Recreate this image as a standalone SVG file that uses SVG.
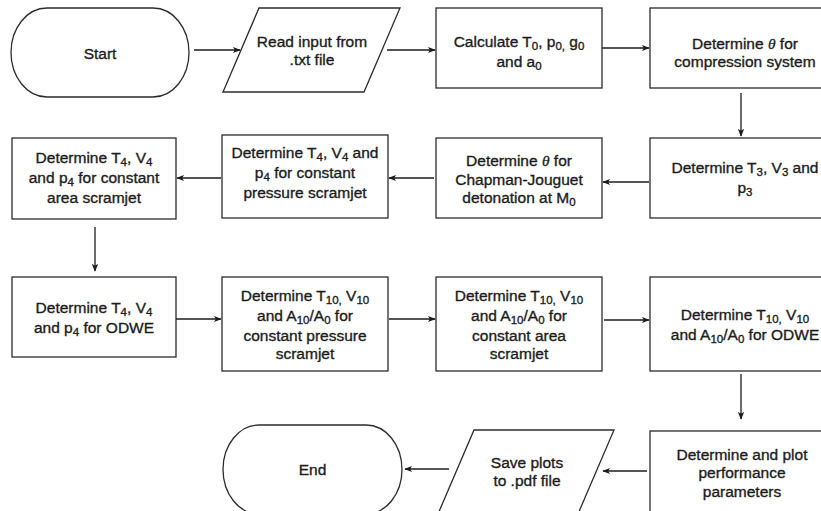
<svg xmlns="http://www.w3.org/2000/svg" width="821" height="511" viewBox="0 0 821 511">
<defs>
<style>
.sh{fill:#fff;stroke:#2b2b2b;stroke-width:1.3}
.t{font-family:"Liberation Sans",Arial,sans-serif;font-size:15.5px;fill:#1c1c1c;stroke:#1c1c1c;stroke-width:0.35;text-anchor:middle}
.s{font-size:11.5px}
.th{font-family:"Liberation Serif","Times New Roman",serif;font-style:italic}
.c{fill:none;stroke:#1c1c1c;stroke-width:1.3}
</style>
<marker id="ah" viewBox="0 0 10 10" refX="9" refY="5" markerWidth="8" markerHeight="8" markerUnits="userSpaceOnUse" orient="auto">
<path d="M0,1 L10,5 L0,9 L2.5,5 Z" fill="#1c1c1c"/>
</marker>
</defs>
<rect width="821" height="511" fill="#fff"/>
<g id="connectors">
<line class="c" x1="194" y1="50" x2="240" y2="50" marker-end="url(#ah)"/>
<line class="c" x1="387" y1="50" x2="435" y2="50" marker-end="url(#ah)"/>
<line class="c" x1="602" y1="48" x2="649" y2="48" marker-end="url(#ah)"/>
<line class="c" x1="741" y1="93" x2="741" y2="136" marker-end="url(#ah)"/>
<line class="c" x1="649" y1="182" x2="603" y2="182" marker-end="url(#ah)"/>
<line class="c" x1="434" y1="178" x2="389" y2="178" marker-end="url(#ah)"/>
<line class="c" x1="221" y1="178" x2="177" y2="178" marker-end="url(#ah)"/>
<line class="c" x1="95" y1="227" x2="95" y2="271" marker-end="url(#ah)"/>
<line class="c" x1="176" y1="319" x2="221" y2="319" marker-end="url(#ah)"/>
<line class="c" x1="389" y1="319" x2="435" y2="319" marker-end="url(#ah)"/>
<line class="c" x1="604" y1="320" x2="649" y2="320" marker-end="url(#ah)"/>
<line class="c" x1="741" y1="374" x2="741" y2="419" marker-end="url(#ah)"/>
<line class="c" x1="647" y1="471" x2="603" y2="471" marker-end="url(#ah)"/>
<line class="c" x1="449" y1="469" x2="405" y2="469" marker-end="url(#ah)"/>
</g>
<g id="start">
<rect class="sh" x="11" y="8" width="178" height="89" rx="36" ry="44.5"/>
<text class="t" x="100" y="58.5">Start</text>
</g>
<g id="read-input">
<polygon class="sh" points="259,8 400,8 364,92 223,92"/>
<text class="t" x="312" y="46.8">Read input from</text>
<text class="t" x="312" y="65.3">.txt file</text>
</g>
<g id="calculate">
<rect class="sh" x="436" y="8" width="166" height="80"/>
<text class="t" x="519" y="47">Calculate T<tspan class="s" dy="3.2">0</tspan><tspan dy="-3.2">, p</tspan><tspan class="s" dy="3.2">0,</tspan><tspan dy="-3.2"> g</tspan><tspan class="s" dy="3.2">0</tspan></text>
<text class="t" x="519" y="67">and a<tspan class="s" dy="3.2">0</tspan></text>
</g>
<g id="theta-compression">
<rect class="sh" x="650" y="8" width="190" height="80"/>
<text class="t" x="745" y="48.8">Determine <tspan class="th">θ</tspan> for</text>
<text class="t" x="745" y="67.3">compression system</text>
</g>
<g id="t3">
<rect class="sh" x="650" y="138" width="190" height="80"/>
<text class="t" x="745" y="172.5">Determine T<tspan class="s" dy="3.2">3</tspan><tspan dy="-3.2">, V</tspan><tspan class="s" dy="3.2">3</tspan><tspan dy="-3.2"> and</tspan></text>
<text class="t" x="745" y="192.5">p<tspan class="s" dy="3.2">3</tspan></text>
</g>
<g id="theta-cj">
<rect class="sh" x="436" y="138" width="166" height="80"/>
<text class="t" x="519" y="166.1">Determine <tspan class="th">θ</tspan> for</text>
<text class="t" x="519" y="184.6">Chapman-Jouguet</text>
<text class="t" x="519" y="203.1">detonation at M<tspan class="s" dy="3.2">0</tspan></text>
</g>
<g id="t4-pressure">
<rect class="sh" x="222" y="135" width="166" height="83"/>
<text class="t" x="305" y="157.5">Determine T<tspan class="s" dy="3.2">4</tspan><tspan dy="-3.2">, V</tspan><tspan class="s" dy="3.2">4</tspan><tspan dy="-3.2"> and</tspan></text>
<text class="t" x="305" y="177.5">p<tspan class="s" dy="3.2">4</tspan><tspan dy="-3.2"> for constant</tspan></text>
<text class="t" x="305" y="197.5">pressure scramjet</text>
</g>
<g id="t4-area">
<rect class="sh" x="12" y="138" width="164" height="81"/>
<text class="t" x="94" y="162.5">Determine T<tspan class="s" dy="3.2">4</tspan><tspan dy="-3.2">, V</tspan><tspan class="s" dy="3.2">4</tspan></text>
<text class="t" x="94" y="182.5">and p<tspan class="s" dy="3.2">4</tspan><tspan dy="-3.2"> for constant</tspan></text>
<text class="t" x="94" y="202.5">area scramjet</text>
</g>
<g id="t4-odwe">
<rect class="sh" x="12" y="277" width="164" height="80"/>
<text class="t" x="94" y="312.5">Determine T<tspan class="s" dy="3.2">4</tspan><tspan dy="-3.2">, V</tspan><tspan class="s" dy="3.2">4</tspan></text>
<text class="t" x="94" y="332.5">and p<tspan class="s" dy="3.2">4</tspan><tspan dy="-3.2"> for ODWE</tspan></text>
</g>
<g id="t10-pressure">
<rect class="sh" x="222" y="277" width="166" height="94"/>
<text class="t" x="305" y="300.5">Determine T<tspan class="s" dy="3.2">10,</tspan><tspan dy="-3.2"> V</tspan><tspan class="s" dy="3.2">10</tspan></text>
<text class="t" x="305" y="320.5">and A<tspan class="s" dy="3.2">10</tspan><tspan dy="-3.2">/A</tspan><tspan class="s" dy="3.2">0</tspan><tspan dy="-3.2"> for</tspan></text>
<text class="t" x="305" y="340.5">constant pressure</text>
<text class="t" x="305" y="358.5">scramjet</text>
</g>
<g id="t10-area">
<rect class="sh" x="436" y="277" width="166" height="94"/>
<text class="t" x="519" y="301">Determine T<tspan class="s" dy="3.2">10,</tspan><tspan dy="-3.2"> V</tspan><tspan class="s" dy="3.2">10</tspan></text>
<text class="t" x="519" y="321">and A<tspan class="s" dy="3.2">10</tspan><tspan dy="-3.2">/A</tspan><tspan class="s" dy="3.2">0</tspan><tspan dy="-3.2"> for</tspan></text>
<text class="t" x="519" y="341">constant area</text>
<text class="t" x="519" y="359">scramjet</text>
</g>
<g id="t10-odwe">
<rect class="sh" x="650" y="277" width="190" height="94"/>
<text class="t" x="745" y="319.5">Determine T<tspan class="s" dy="3.2">10,</tspan><tspan dy="-3.2"> V</tspan><tspan class="s" dy="3.2">10</tspan></text>
<text class="t" x="745" y="339.5">and A<tspan class="s" dy="3.2">10</tspan><tspan dy="-3.2">/A</tspan><tspan class="s" dy="3.2">0</tspan><tspan dy="-3.2"> for ODWE</tspan></text>
</g>
<g id="plot">
<rect class="sh" x="650" y="431" width="190" height="84"/>
<text class="t" x="742" y="459.6">Determine and plot</text>
<text class="t" x="742" y="478.1">performance</text>
<text class="t" x="742" y="496.6">parameters</text>
</g>
<g id="save">
<polygon class="sh" points="474,430 614,430 578,514 438,514"/>
<text class="t" x="527" y="467.6">Save plots</text>
<text class="t" x="527" y="486.1">to .pdf file</text>
</g>
<g id="end">
<rect class="sh" x="223" y="425" width="179" height="89" rx="36" ry="44.5"/>
<text class="t" x="312.5" y="475.2">End</text>
</g>
</svg>
